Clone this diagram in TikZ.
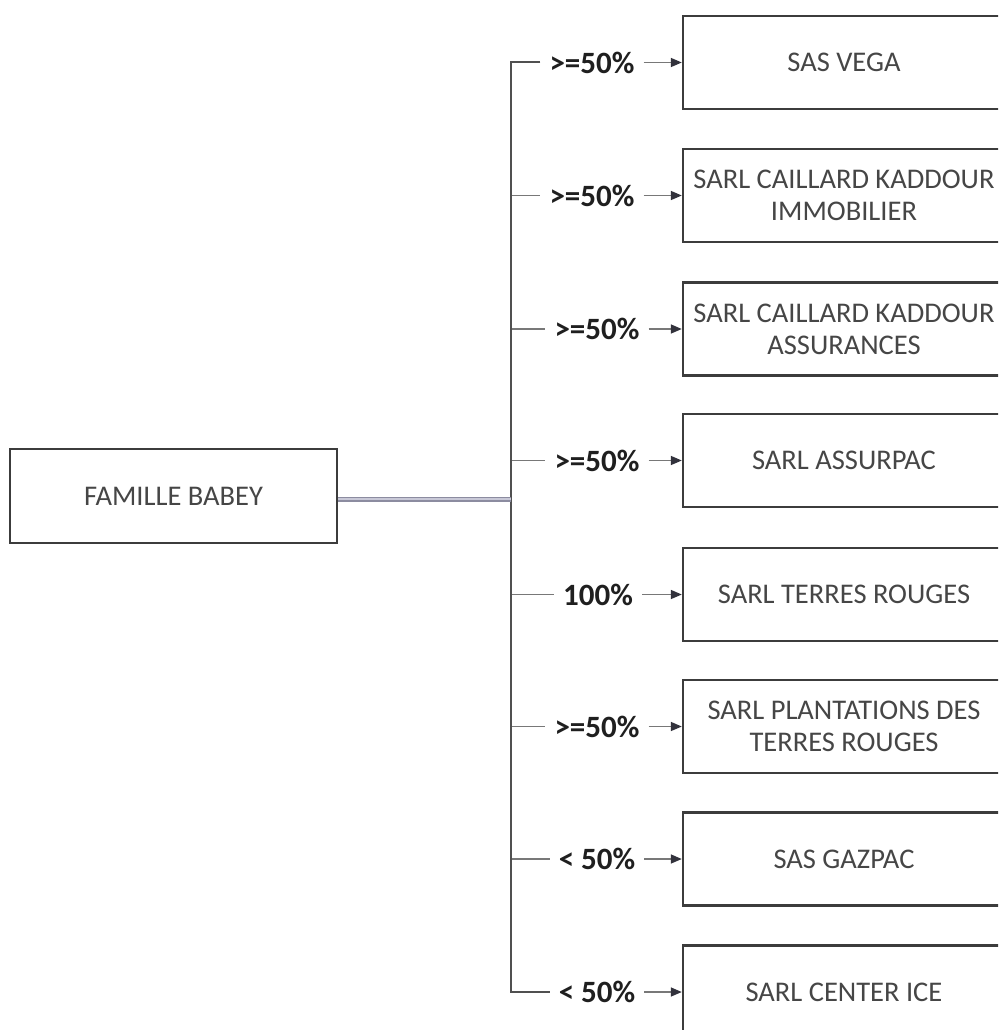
\documentclass[tikz,border=0pt]{standalone}
\usepackage{fontspec}
\setmainfont{Carlito}
\usetikzlibrary{arrows.meta}
\definecolor{boxline}{RGB}{60,60,60}
\definecolor{boxtext}{RGB}{70,70,70}
\definecolor{stubline}{RGB}{120,120,120}
\definecolor{tipcol}{RGB}{50,50,60}
\definecolor{trunkline}{RGB}{80,80,80}
\definecolor{dblout}{RGB}{140,140,160}
\definecolor{dblin}{RGB}{200,200,215}
\tikzset{
  entbox/.style={draw=boxline, line width=2.4pt, minimum width=322pt, minimum height=93pt,
    align=center, text=boxtext, font=\fontsize{28.5}{32}\selectfont, inner sep=0pt},
  pct/.style={font=\bfseries\fontsize{31}{34}\selectfont, text=black!88, inner xsep=9pt, inner ysep=4pt},
  stub/.style={draw=stubline, line width=1.5pt},
  arr/.style={draw=stubline, line width=1.5pt, -{Triangle[length=11pt,width=9pt,color=tipcol]}},
}
\begin{document}
\begin{tikzpicture}[x=1pt,y=-1pt]
\useasboundingbox (0,0) rectangle (998,1030);
\clip (0,0) rectangle (998,1030);
\fill[white] (0,0) rectangle (998,1030);

\node[entbox, minimum width=327pt, minimum height=94pt] (fam) at (173.5,496) {FAMILLE BABEY};

\node[entbox] (b1) at (844,62.5) {SAS VEGA};
\node[entbox] (b2) at (844,195.5) {SARL CAILLARD KADDOUR\\IMMOBILIER};
\node[entbox] (b3) at (844,329) {SARL CAILLARD KADDOUR\\ASSURANCES};
\node[entbox] (b4) at (844,460.5) {SARL ASSURPAC};
\node[entbox] (b5) at (844,594.5) {SARL TERRES ROUGES};
\node[entbox] (b6) at (844,726.5) {SARL PLANTATIONS DES\\TERRES ROUGES};
\node[entbox] (b7) at (844,859) {SAS GAZPAC};
\node[entbox] (b8) at (844,992) {SARL CENTER ICE};

\node[pct] (l1) at (592,62.5) {>=50\%};
\node[pct] (l2) at (592,195.5) {>=50\%};
\node[pct] (l3) at (597,329) {>=50\%};
\node[pct] (l4) at (597,460.5) {>=50\%};
\node[pct] (l5) at (598,594.5) {100\%};
\node[pct] (l6) at (597,726.5) {>=50\%};
\node[pct] (l7) at (597,859) {< 50\%};
\node[pct] (l8) at (597,992) {< 50\%};

\foreach \i/\yy in {1/62.5,2/195.5,3/329,4/460.5,5/594.5,6/726.5,7/859,8/992}
  \coordinate (t\i) at (511,\yy);
\coordinate (tm) at (511,499);

\foreach \i in {2,...,7}
  \draw[stub] (t\i) -- (l\i.west);
\draw[draw=trunkline, line width=2pt, line join=miter] (l1.west) -- (t1) -- (t8) -- (l8.west);

\foreach \i in {1,...,8}
  \draw[arr] (l\i.east) -- (b\i.west);

\draw[draw=dblout, line width=5pt] (fam.east |- tm) -- (tm);
\draw[draw=dblin, line width=1.2pt] (fam.east |- tm) -- (tm);
\end{tikzpicture}
\end{document}
